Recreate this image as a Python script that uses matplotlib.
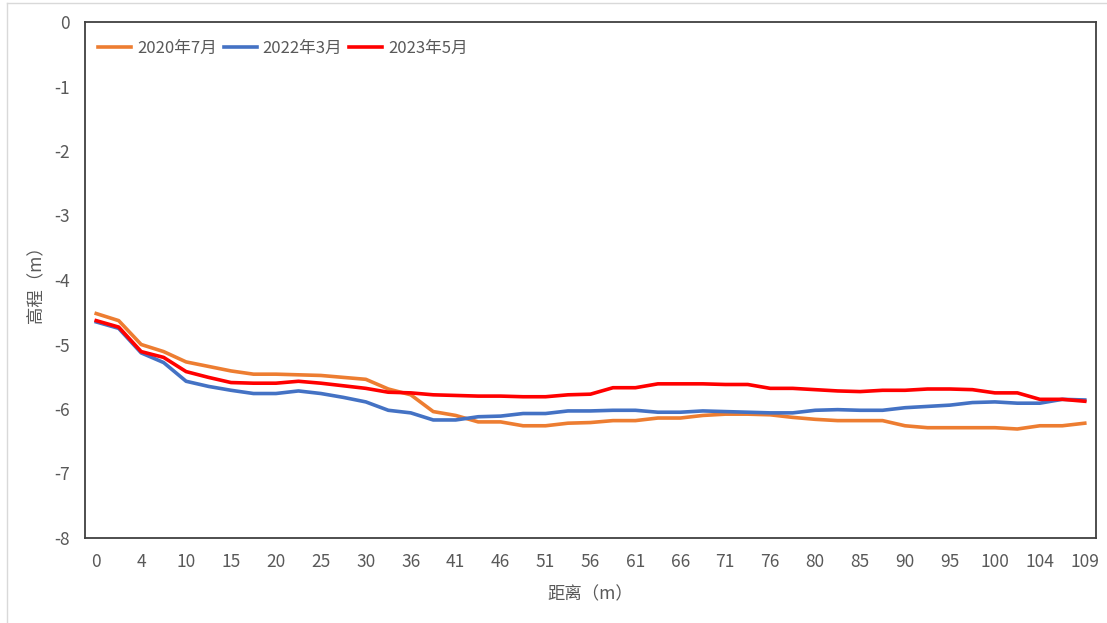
import numpy as np
import matplotlib.pyplot as plt
from matplotlib.lines import Line2D

plt.rcParams['font.family'] = ['Noto Sans CJK SC', 'DejaVu Sans']
plt.rcParams['axes.unicode_minus'] = False

# distance stations (m), every other one is labelled on the axis
dist = [0, 2, 4, 7, 10, 12, 15, 17, 20, 22, 25, 27, 30, 33, 36, 38, 41, 43, 46, 48,
        51, 53, 56, 58, 61, 63, 66, 68, 71, 73, 76, 78, 80, 83, 85, 88, 90, 93, 95, 98,
        100, 102, 104, 107, 109]

elev_2020_07 = [-4.52, -4.63, -5.00, -5.11, -5.27, -5.34, -5.41, -5.46, -5.46, -5.47,
                -5.48, -5.51, -5.54, -5.69, -5.78, -6.04, -6.10, -6.20, -6.20, -6.26,
                -6.26, -6.22, -6.21, -6.18, -6.18, -6.14, -6.14, -6.10, -6.08, -6.08,
                -6.09, -6.13, -6.16, -6.18, -6.18, -6.18, -6.26, -6.29, -6.29, -6.29,
                -6.29, -6.31, -6.26, -6.26, -6.22]

elev_2022_03 = [-4.65, -4.75, -5.13, -5.28, -5.57, -5.65, -5.71, -5.76, -5.76, -5.72,
                -5.76, -5.82, -5.89, -6.02, -6.06, -6.17, -6.17, -6.12, -6.11, -6.07,
                -6.07, -6.03, -6.03, -6.02, -6.02, -6.05, -6.05, -6.03, -6.04, -6.05,
                -6.06, -6.06, -6.02, -6.01, -6.02, -6.02, -5.98, -5.96, -5.94, -5.90,
                -5.89, -5.91, -5.91, -5.85, -5.86]

elev_2023_05 = [-4.63, -4.73, -5.11, -5.20, -5.42, -5.51, -5.59, -5.60, -5.60, -5.57,
                -5.60, -5.64, -5.68, -5.74, -5.75, -5.78, -5.79, -5.80, -5.80, -5.81,
                -5.81, -5.78, -5.77, -5.67, -5.67, -5.61, -5.61, -5.61, -5.62, -5.62,
                -5.68, -5.68, -5.70, -5.72, -5.73, -5.71, -5.71, -5.69, -5.69, -5.70,
                -5.75, -5.75, -5.85, -5.85, -5.88]

series = [('2020年7月', elev_2020_07, '#ED7D31'),
          ('2022年3月', elev_2022_03, '#4472C4'),
          ('2023年5月', elev_2023_05, '#FF0000')]

fig = plt.figure(figsize=(11.07, 6.23), dpi=100)
ax = fig.add_axes([85 / 1107, 1 - 538 / 623, (1096 - 85) / 1107, (538 - 22) / 623])

x = np.arange(len(dist))
for name, vals, color in series:
    ax.plot(x, vals, color=color, lw=2.6, label=name, solid_joinstyle='round')

ax.set_xlim(-0.5, len(dist) - 0.5)
ax.set_ylim(-8, 0)
ax.set_xticks(x[::2])
ax.set_xticklabels([str(d) for d in dist[::2]])
ax.set_yticks(np.arange(-8, 1, 1))

txt = '#595959'
ax.tick_params(length=0, labelsize=12.5, colors=txt)
ax.tick_params(axis='x', pad=11)
ax.tick_params(axis='y', pad=11)
for s in ax.spines.values():
    s.set_color('#404040')
    s.set_linewidth(1.3)

ax.set_xlabel('距离（m）', fontsize=12.5, color=txt, labelpad=10)
ax.set_ylabel('高程（m）', fontsize=12.5, color=txt, labelpad=6)

ax.legend(loc='upper left', ncol=3, frameon=False, fontsize=12,
          handlelength=2.0, handletextpad=0.35, columnspacing=0.4,
          bbox_to_anchor=(-0.002, 0.995), labelcolor=txt)

# light chart-area border along the left and top
fig.add_artist(Line2D([7 / 1107, 7 / 1107], [1 - 3 / 623, 0.0], color='#d9d9d9', lw=1))
fig.add_artist(Line2D([7 / 1107, 1.0], [1 - 3 / 623, 1 - 3 / 623], color='#d9d9d9', lw=1))

fig.savefig('out.png', dpi=100)
